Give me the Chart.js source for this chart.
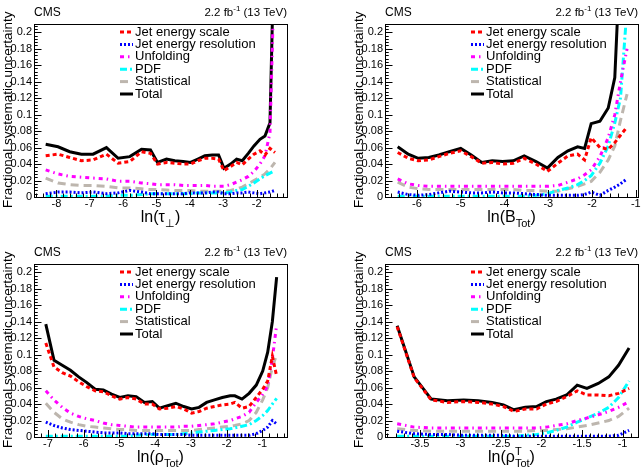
<!DOCTYPE html>
<html lang="en">
<head>
<meta charset="UTF-8">
<title>Fractional systematic uncertainty - event shapes</title>
<script src="https://cdn.jsdelivr.net/npm/chart.js"></script>
<style>
    body {
        margin: 0;
        background: #fff;
        width: 643px;
        height: 469px;
        overflow: hidden;
        position: relative;
    }
    .pad {
        position: absolute;
        width: 292px;
        height: 229px;
    }
    .pad canvas { display: block; }
</style>
</head>
<body>

<div class="pad" style="left:0;top:0"><canvas id="padTau" width="292" height="229"></canvas></div>
<div class="pad" style="left:351px;top:0"><canvas id="padB" width="292" height="229"></canvas></div>
<div class="pad" style="left:0;top:240px"><canvas id="padRho" width="292" height="229"></canvas></div>
<div class="pad" style="left:351px;top:240px"><canvas id="padRhoT" width="292" height="229"></canvas></div>

<script>
// series order = legend order
var seriesNames = ['Jet energy scale', 'Jet energy resolution', 'Unfolding', 'PDF', 'Statistical', 'Total'];
var yTicks = [0, 0.02, 0.04, 0.06, 0.08, 0.1, 0.12, 0.14, 0.16, 0.18, 0.2];

// ln(tau_perp)
var tauX    = [-8.32, -7.95, -7.6, -7.25, -6.9, -6.5, -6.15, -5.8, -5.45, -5.18, -4.97, -4.7, -4.45, -4.2, -3.98, -3.76, -3.55, -3.33, -3.14, -2.98, -2.78, -2.6, -2.43, -2.25, -2.08, -1.9, -1.75, -1.6, -1.45];
var tauJes  = [0.050, 0.052, 0.048, 0.044, 0.045, 0.052, 0.041, 0.043, 0.055, 0.053, 0.040, 0.042, 0.041, 0.040, 0.040, 0.044, 0.047, 0.047, 0.046, 0.032, 0.037, 0.042, 0.039, 0.046, 0.052, 0.056, 0.051, 0.059, 0.054];
var tauJer  = [0.004, 0.006, 0.006, 0.005, 0.006, 0.004, 0.005, 0.008, 0.006, 0.004, 0.004, 0.004, 0.004, 0.004, 0.005, 0.005, 0.005, 0.006, 0.006, 0.004, 0.004, 0.005, 0.005, 0.006, 0.005, 0.004, 0.005, 0.006, 0.008];
var tauUnf  = [0.033, 0.028, 0.025, 0.024, 0.023, 0.022, 0.019, 0.019, 0.017, 0.016, 0.015, 0.015, 0.015, 0.014, 0.014, 0.014, 0.014, 0.013, 0.013, 0.013, 0.015, 0.018, 0.021, 0.025, 0.031, 0.040, 0.050, 0.078, 0.30];
var tauPdf  = [0.001, 0.001, 0.001, 0.001, 0.001, 0.001, 0.002, 0.002, 0.003, 0.004, 0.004, 0.004, 0.004, 0.004, 0.004, 0.005, 0.005, 0.005, 0.005, 0.005, 0.006, 0.008, 0.009, 0.013, 0.017, 0.022, 0.026, 0.029, 0.032];
var tauStat = [0.023, 0.017, 0.015, 0.014, 0.014, 0.013, 0.011, 0.011, 0.010, 0.009, 0.009, 0.0085, 0.008, 0.008, 0.008, 0.007, 0.007, 0.007, 0.007, 0.007, 0.008, 0.010, 0.012, 0.016, 0.020, 0.024, 0.028, 0.034, 0.042];
var tauTot  = [0.064, 0.061, 0.055, 0.052, 0.052, 0.060, 0.047, 0.049, 0.058, 0.057, 0.042, 0.046, 0.044, 0.043, 0.042, 0.046, 0.050, 0.051, 0.051, 0.035, 0.040, 0.046, 0.044, 0.053, 0.062, 0.070, 0.074, 0.090, 0.35];
var tauTicks = [-8, -7, -6, -5, -4, -3, -2];

// ln(B_Tot)
var bX    = [-6.44, -6.2, -5.97, -5.73, -5.5, -5.26, -5.0, -4.76, -4.52, -4.28, -4.04, -3.8, -3.55, -3.28, -3.02, -2.78, -2.55, -2.33, -2.17, -2.02, -1.82, -1.63, -1.48, -1.35, -1.2];
var bJes  = [0.054, 0.047, 0.044, 0.045, 0.049, 0.053, 0.056, 0.049, 0.041, 0.042, 0.040, 0.041, 0.047, 0.040, 0.031, 0.041, 0.050, 0.052, 0.045, 0.072, 0.060, 0.058, 0.066, 0.075, 0.085];
var bJer  = [0.006, 0.003, 0.002, 0.003, 0.005, 0.007, 0.006, 0.005, 0.005, 0.006, 0.005, 0.005, 0.004, 0.003, 0.002, 0.002, 0.002, 0.002, 0.003, 0.006, 0.002, 0.008, 0.012, 0.016, 0.022];
var bUnf  = [0.022, 0.016, 0.014, 0.013, 0.013, 0.013, 0.013, 0.013, 0.013, 0.013, 0.013, 0.013, 0.013, 0.013, 0.013, 0.014, 0.018, 0.022, 0.027, 0.033, 0.049, 0.072, 0.100, 0.140, 0.180];
var bPdf  = [0.001, 0.001, 0.001, 0.001, 0.001, 0.001, 0.001, 0.001, 0.001, 0.001, 0.001, 0.001, 0.001, 0.002, 0.004, 0.008, 0.011, 0.015, 0.020, 0.026, 0.041, 0.062, 0.090, 0.120, 0.23];
var bStat = [0.018, 0.012, 0.010, 0.009, 0.009, 0.009, 0.009, 0.009, 0.009, 0.009, 0.009, 0.009, 0.008, 0.008, 0.007, 0.007, 0.010, 0.013, 0.016, 0.019, 0.030, 0.045, 0.062, 0.093, 0.125];
var bTot  = [0.061, 0.052, 0.047, 0.048, 0.051, 0.055, 0.059, 0.051, 0.042, 0.044, 0.043, 0.044, 0.050, 0.043, 0.035, 0.048, 0.056, 0.061, 0.059, 0.089, 0.092, 0.108, 0.145, 0.30, 0.35];
var bTicks = [-6, -5, -4, -3, -2, -1];

// ln(rho_Tot)
var rhoX    = [-7.06, -6.83, -6.6, -6.37, -6.14, -5.91, -5.68, -5.45, -5.22, -4.99, -4.76, -4.53, -4.3, -4.08, -3.88, -3.65, -3.42, -3.2, -2.98, -2.77, -2.56, -2.34, -2.12, -1.9, -1.77, -1.57, -1.37, -1.17, -0.99, -0.85, -0.72, -0.6];
var rhoJes  = [0.114, 0.085, 0.078, 0.074, 0.067, 0.061, 0.056, 0.055, 0.050, 0.046, 0.048, 0.046, 0.040, 0.040, 0.034, 0.035, 0.037, 0.034, 0.029, 0.031, 0.035, 0.037, 0.039, 0.040, 0.042, 0.035, 0.037, 0.048, 0.058, 0.068, 0.098, 0.074];
var rhoJer  = [0.018, 0.014, 0.011, 0.009, 0.008, 0.007, 0.006, 0.005, 0.005, 0.005, 0.004, 0.004, 0.004, 0.004, 0.003, 0.003, 0.003, 0.003, 0.002, 0.002, 0.002, 0.002, 0.002, 0.002, 0.002, 0.002, 0.002, 0.004, 0.008, 0.012, 0.020, 0.016];
var rhoUnf  = [0.056, 0.045, 0.036, 0.029, 0.025, 0.022, 0.020, 0.017, 0.015, 0.014, 0.013, 0.012, 0.012, 0.012, 0.012, 0.012, 0.012, 0.013, 0.013, 0.014, 0.015, 0.016, 0.018, 0.020, 0.022, 0.025, 0.030, 0.042, 0.052, 0.062, 0.095, 0.136];
var rhoPdf  = [0.001, 0.001, 0.001, 0.001, 0.001, 0.001, 0.001, 0.001, 0.001, 0.001, 0.001, 0.002, 0.003, 0.003, 0.003, 0.003, 0.003, 0.004, 0.005, 0.006, 0.007, 0.008, 0.009, 0.010, 0.011, 0.013, 0.015, 0.020, 0.026, 0.032, 0.040, 0.047];
var rhoStat = [0.041, 0.030, 0.022, 0.018, 0.015, 0.013, 0.012, 0.011, 0.010, 0.009, 0.009, 0.008, 0.008, 0.008, 0.008, 0.008, 0.008, 0.008, 0.008, 0.009, 0.010, 0.011, 0.012, 0.013, 0.014, 0.016, 0.020, 0.030, 0.045, 0.060, 0.085, 0.100];
var rhoTot  = [0.137, 0.093, 0.087, 0.081, 0.073, 0.066, 0.058, 0.057, 0.052, 0.048, 0.050, 0.049, 0.042, 0.043, 0.035, 0.038, 0.041, 0.037, 0.034, 0.036, 0.042, 0.045, 0.048, 0.050, 0.050, 0.046, 0.053, 0.063, 0.080, 0.103, 0.140, 0.194];
var rhoTicks = [-7, -6, -5, -4, -3, -2, -1];

// ln(rho^T_Tot)
var rhoTX    = [-3.78, -3.57, -3.36, -3.16, -2.96, -2.78, -2.61, -2.47, -2.34, -2.2, -2.06, -1.94, -1.82, -1.69, -1.56, -1.44, -1.3, -1.17, -1.05, -0.92];
var rhoTJes  = [0.134, 0.072, 0.045, 0.042, 0.043, 0.042, 0.040, 0.037, 0.031, 0.034, 0.034, 0.040, 0.043, 0.049, 0.056, 0.051, 0.051, 0.050, 0.053, 0.059];
var rhoTJer  = [0.007, 0.004, 0.003, 0.003, 0.002, 0.002, 0.002, 0.002, 0.001, 0.001, 0.001, 0.001, 0.001, 0.001, 0.001, 0.001, 0.001, 0.001, 0.002, 0.008];
var rhoTUnf  = [0.016, 0.012, 0.011, 0.011, 0.011, 0.011, 0.011, 0.011, 0.011, 0.011, 0.011, 0.012, 0.014, 0.016, 0.020, 0.023, 0.027, 0.031, 0.036, 0.043];
var rhoTPdf  = [0.001, 0.001, 0.001, 0.001, 0.001, 0.001, 0.001, 0.001, 0.001, 0.002, 0.003, 0.005, 0.008, 0.012, 0.018, 0.023, 0.029, 0.036, 0.048, 0.068];
var rhoTStat = [0.010, 0.008, 0.007, 0.007, 0.007, 0.007, 0.007, 0.007, 0.007, 0.007, 0.008, 0.008, 0.009, 0.010, 0.012, 0.014, 0.017, 0.020, 0.025, 0.035];
var rhoTTot  = [0.135, 0.073, 0.046, 0.044, 0.045, 0.044, 0.042, 0.039, 0.033, 0.036, 0.037, 0.043, 0.046, 0.051, 0.063, 0.059, 0.065, 0.073, 0.087, 0.108];
var rhoTTicks = [-3.5, -3, -2.5, -2, -1.5, -1];

var FONT = "'Liberation Sans', Arial, Helvetica, sans-serif";
var colors = ['#ff0000', '#0000ff', '#ff00ff', '#00ffff', '#bdb6ae', '#000000'];
var dashes = [[4, 3], [2, 2], [4, 4, 1.5, 4], [7, 3, 2, 3], [8, 5], []];

Chart.defaults.font.family = FONT;
Chart.defaults.color = '#000';

// ROOT-like frame, inward ticks, labels and legend
var rootPad = {
    id: 'rootPad',
    afterDraw: function(chart, args, opts) {
        var ctx = chart.ctx, ca = chart.chartArea;
        var xs = chart.scales.x, ys = chart.scales.y;
        ctx.save();
        ctx.strokeStyle = '#000';
        ctx.lineWidth = 1;
        ctx.setLineDash([]);
        ctx.strokeRect(Math.round(ca.left) + 0.5, Math.round(ca.top) + 0.5,
                       Math.round(ca.right - ca.left), Math.round(ca.bottom - ca.top));

        // ticks (major from scale ticks, minor in between)
        ctx.beginPath();
        var v, p;
        var x0 = xs.ticks[0].value;
        for (v = x0; v >= xs.min - 1e-9; v -= opts.xMinor) {}
        for (v = v + opts.xMinor; v <= xs.max + 1e-9; v += opts.xMinor) {
            p = Math.round(xs.getPixelForValue(v)) + 0.5;
            var major = Math.abs((v - x0) / opts.xMajor - Math.round((v - x0) / opts.xMajor)) < 1e-6;
            ctx.moveTo(p, ca.bottom);
            ctx.lineTo(p, ca.bottom - (major ? 7 : 3.5));
        }
        for (v = 0; v <= ys.max + 1e-9; v += 0.004) {
            p = Math.round(ys.getPixelForValue(v)) + 0.5;
            var maj = Math.abs(v / 0.02 - Math.round(v / 0.02)) < 1e-6;
            ctx.moveTo(ca.left, p);
            ctx.lineTo(ca.left + (maj ? 7.5 : 3.75), p);
        }
        ctx.stroke();

        ctx.fillStyle = '#000';
        // CMS / lumi
        ctx.textBaseline = 'middle';
        ctx.textAlign = 'left';
        ctx.font = '12px ' + FONT;
        ctx.fillText('CMS', ca.left, ca.top - 11);
        ctx.font = '11.5px ' + FONT;
        var a = '2.2 fb', c = ' (13 TeV)';
        var wa = ctx.measureText(a).width, wc = ctx.measureText(c).width;
        ctx.font = '8px ' + FONT;
        var wb = ctx.measureText('-1').width;
        var lx = ca.right - wa - wb - wc;
        ctx.font = '11.5px ' + FONT;
        ctx.fillText(a, lx, ca.top - 11);
        ctx.fillText(c, lx + wa + wb, ca.top - 11);
        ctx.font = '8px ' + FONT;
        ctx.fillText('-1', lx + wa, ca.top - 15);

        // y title
        ctx.save();
        ctx.translate(ca.left - 26, ca.bottom + 11);
        ctx.rotate(-Math.PI / 2);
        ctx.font = '13.5px ' + FONT;
        ctx.textAlign = 'left';
        ctx.fillText('Fractional systematic uncertainty', 0, 0);
        ctx.restore();

        // x title with sub/superscripts
        ctx.textBaseline = 'alphabetic';
        var parts = opts.xTitle, w = 0, i, adv = [];
        for (i = 0; i < parts.length; i++) {
            ctx.font = (parts[i][1] === 0 ? '16px ' : '11px ') + FONT;
            adv.push(ctx.measureText(parts[i][0]).width);
        }
        for (i = 0; i < parts.length; i++) {
            if (parts[i][1] === 1) continue;
            var aw = adv[i];
            if (i > 0 && parts[i - 1][1] === 1) aw = Math.max(aw, adv[i - 1]);
            w += aw;
        }
        var tx = (ca.left + ca.right) / 2 - w / 2, ty = ca.bottom + 25;
        for (i = 0; i < parts.length; i++) {
            var mode = parts[i][1];
            ctx.font = (mode === 0 ? '16px ' : '11px ') + FONT;
            var dy = mode === -1 ? 5 : (mode === 1 ? -7 : 0);
            ctx.fillText(parts[i][0], tx, ty + dy);
            if (mode === 1) continue;
            var step = adv[i];
            if (i > 0 && parts[i - 1][1] === 1) step = Math.max(step, adv[i - 1]);
            tx += step;
        }

        // legend
        ctx.textBaseline = 'middle';
        ctx.font = '13px ' + FONT;
        var gx = ca.left + 86, gy = ca.top + 8;
        chart.data.datasets.forEach(function(ds, k) {
            var yy = gy + k * 12.4;
            ctx.save();
            ctx.strokeStyle = ds.borderColor;
            ctx.lineWidth = ds.borderWidth;
            ctx.setLineDash(ds.borderDash);
            ctx.beginPath();
            ctx.moveTo(gx, yy);
            ctx.lineTo(gx + 13, yy);
            ctx.stroke();
            ctx.restore();
            ctx.fillText(ds.label, gx + 15, yy);
        });
        ctx.restore();
    }
};

function makePanel(id, xs, series, xMin, xMax, xTicks, xMajor, xMinor, xTitle) {
    var datasets = seriesNames.map(function(name, i) {
        return {
            label: name,
            data: xs.map(function(x, k) { return {x: x, y: series[i][k]}; }),
            borderColor: colors[i],
            borderWidth: 3,
            borderDash: dashes[i],
            pointRadius: 0,
            tension: 0,
            fill: false
        };
    });
    new Chart(document.getElementById(id), {
        type: 'line',
        data: {datasets: datasets},
        options: {
            responsive: false,
            animation: false,
            devicePixelRatio: 1,
            layout: {padding: {top: 24, left: 0, right: 5, bottom: 6}},
            plugins: {
                legend: {display: false},
                tooltip: {enabled: false},
                rootPad: {xTitle: xTitle, xMajor: xMajor, xMinor: xMinor}
            },
            scales: {
                x: {
                    type: 'linear', min: xMin, max: xMax,
                    afterBuildTicks: function(s) { s.ticks = xTicks.map(function(v) { return {value: v}; }); },
                    afterFit: function(s) { s.height = 26; },
                    grid: {display: false, drawTicks: false},
                    border: {display: false},
                    ticks: {padding: 0, maxRotation: 0, autoSkip: false, font: {size: 11},
                            callback: function(v) { return String(v); }}
                },
                y: {
                    min: 0, max: 0.21,
                    afterBuildTicks: function(s) { s.ticks = yTicks.map(function(v) { return {value: v}; }); },
                    afterFit: function(s) { s.width = 34; },
                    grid: {display: false, drawTicks: false},
                    border: {display: false},
                    ticks: {padding: 2, font: {size: 11},
                            callback: function(v) { return v === 0 ? '0' : String(+v.toFixed(2)); }}
                }
            }
        },
        plugins: [rootPad]
    });
}

makePanel('padTau', tauX, [tauJes, tauJer, tauUnf, tauPdf, tauStat, tauTot], -8.67, -1.09, tauTicks, 1, 0.2,
          [['ln(\u03c4', 0], ['\u22a5', -1], [')', 0]]);
makePanel('padB', bX, [bJes, bJer, bUnf, bPdf, bStat, bTot], -6.73, -0.95, bTicks, 1, 0.2,
          [['ln(B', 0], ['Tot', -1], [')', 0]]);
makePanel('padRho', rhoX, [rhoJes, rhoJer, rhoUnf, rhoPdf, rhoStat, rhoTot], -7.39, -0.31, rhoTicks, 1, 0.2,
          [['ln(\u03c1', 0], ['Tot', -1], [')', 0]]);
makePanel('padRhoT', rhoTX, [rhoTJes, rhoTJer, rhoTUnf, rhoTPdf, rhoTStat, rhoTTot], -3.93, -0.81, rhoTTicks, 0.5, 0.1,
          [['ln(\u03c1', 0], ['T', 1], ['Tot', -1], [')', 0]]);
</script>
</body>
</html>
